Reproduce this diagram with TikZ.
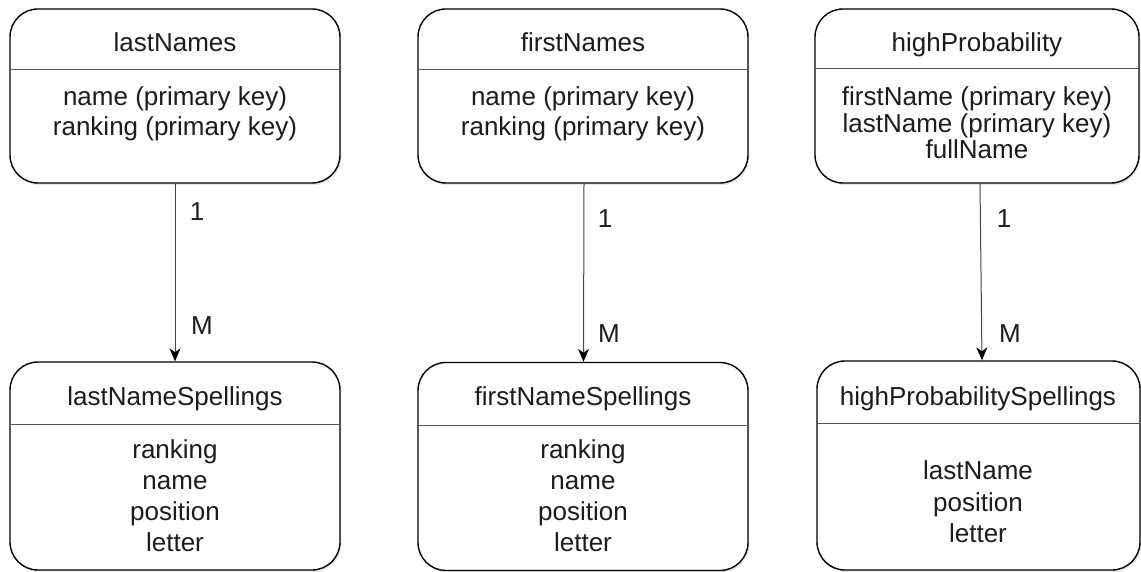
\documentclass[tikz,border=0pt]{standalone}
\usepackage{fontspec}
\setmainfont{Liberation Sans}
\usetikzlibrary{arrows.meta,shadows}
\definecolor{txt}{HTML}{1C1C1C}
\definecolor{divc}{HTML}{555555}
\definecolor{linec}{HTML}{444444}
\begin{document}
\begin{tikzpicture}[x=1pt,y=-1pt,
  ebox/.style={draw=black, line width=1.4pt, rounded corners=28pt, fill=white,
    drop shadow={opacity=0.18, shadow xshift=1.5pt, shadow yshift=-2pt},
    inner sep=0pt},
  divider/.style={draw=divc, line width=1pt},
  conn/.style={draw=linec, line width=1pt,
    -{Stealth[length=13pt, width=11pt, inset=4pt, color=black]}},
  lbl/.style={anchor=base, inner sep=0pt, text=txt, font=\fontsize{26}{30}\selectfont},
  card/.style={anchor=base, inner sep=0pt, text=txt, font=\fontsize{26}{30}\selectfont}
]
\useasboundingbox (0,0) rectangle (1141,572);

% boxes
\node[ebox, minimum width=330pt, minimum height=174pt] (ln) at (175,96) {};
\node[ebox, minimum width=330pt, minimum height=174pt] (fn) at (583,96) {};
\node[ebox, minimum width=324pt, minimum height=174pt] (hp) at (977,96) {};
\node[ebox, minimum width=330pt, minimum height=208pt] (lns) at (175,466) {};
\node[ebox, minimum width=330pt, minimum height=208pt] (fns) at (583,466.5) {};
\node[ebox, minimum width=323pt, minimum height=209pt] (hps) at (978.5,465.5) {};

% dividers
\draw[divider] (ln.west |- 0,70) -- (ln.east |- 0,70);
\draw[divider] (fn.west |- 0,70) -- (fn.east |- 0,70);
\draw[divider] (hp.west |- 0,69) -- (hp.east |- 0,69);
\draw[divider] (lns.west |- 0,424) -- (lns.east |- 0,424);
\draw[divider] (fns.west |- 0,425) -- (fns.east |- 0,425);
\draw[divider] (hps.west |- 0,423) -- (hps.east |- 0,423);

% titles
\node[lbl] (lnT) at (175,52) {lastNames};
\node[lbl] (fnT) at (583,52) {firstNames};
\node[lbl] (hpT) at (977,52) {highProbability};
\node[lbl] (lnsT) at (175,405) {lastNameSpellings};
\node[lbl] (fnsT) at (583,405) {firstNameSpellings};
\node[lbl] (hpsT) at (978,405) {highProbabilitySpellings};

% attributes
\node[lbl] (ln1) at (175,106) {name (primary key)};
\node[lbl] (ln2) at (175,136) {ranking (primary key)};
\node[lbl] (fn1) at (583,106) {name (primary key)};
\node[lbl] (fn2) at (583,136) {ranking (primary key)};
\node[lbl] (hp1) at (977,106) {firstName (primary key)};
\node[lbl] (hp2) at (977,133) {lastName (primary key)};
\node[lbl] (hp3) at (977,159) {fullName};

\node[lbl] (lns1) at (175,458) {ranking};
\node[lbl] (lns2) at (175,489) {name};
\node[lbl] (lns3) at (175,520) {position};
\node[lbl] (lns4) at (175,551) {letter};
\node[lbl] (fns1) at (583,458) {ranking};
\node[lbl] (fns2) at (583,489) {name};
\node[lbl] (fns3) at (583,520) {position};
\node[lbl] (fns4) at (583,551) {letter};
\node[lbl] (hps1) at (978,479) {lastName};
\node[lbl] (hps2) at (978,511) {position};
\node[lbl] (hps3) at (978,542) {letter};

% connectors
\draw[conn] (ln.south) -- (lns.north);
\draw[conn] ([xshift=1pt]fn.south) -- ([xshift=0.5pt]fns.north);
\draw[conn] ([xshift=3pt]hp.south) -- ([xshift=3.5pt]hps.north);

% cardinalities
\node[card] (c1a) at (197,221) {1};
\node[card] (c1b) at (202,334) {M};
\node[card] (c2a) at (605,228) {1};
\node[card] (c2b) at (609,342) {M};
\node[card] (c3a) at (1004,228) {1};
\node[card] (c3b) at (1010,342) {M};
\end{tikzpicture}
\end{document}
